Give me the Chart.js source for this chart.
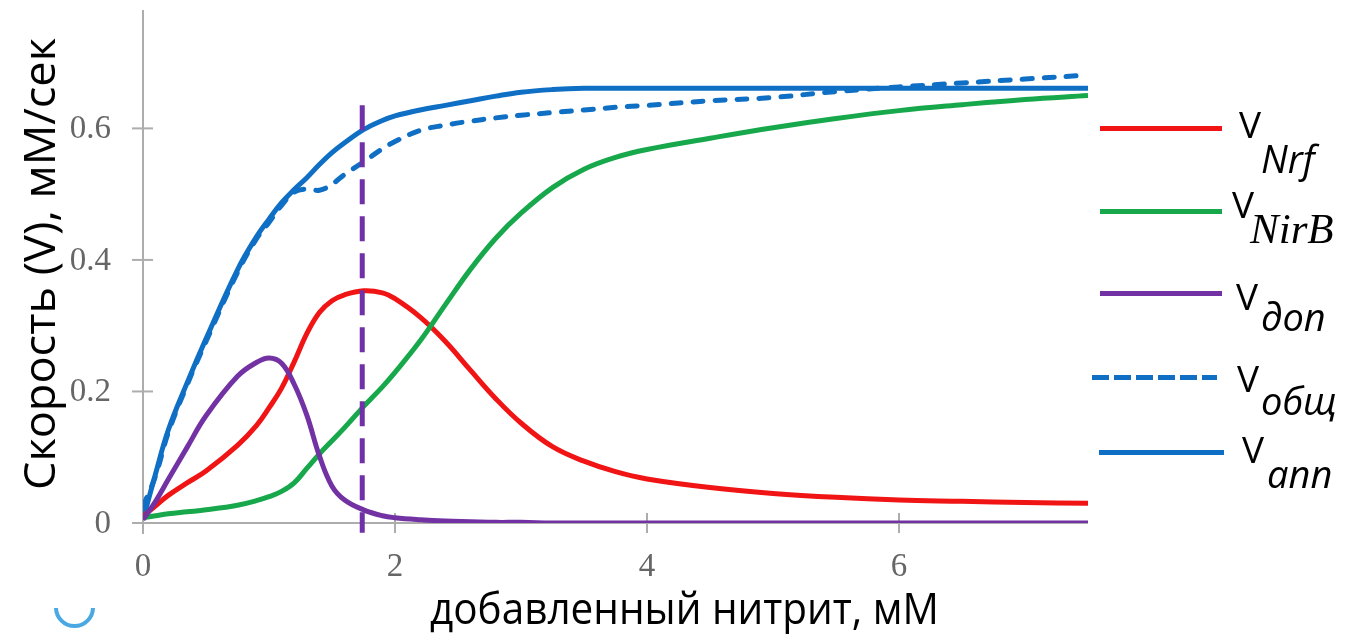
<!DOCTYPE html>
<html>
<head>
<meta charset="utf-8">
<script src="https://cdn.jsdelivr.net/npm/chart.js@4.4.1/dist/chart.umd.min.js"></script>
<style>
  html, body { margin: 0; padding: 0; background: #ffffff; }
  #wrap { position: relative; width: 1352px; height: 634px; overflow: hidden; background: #ffffff; }
  #chart { position: absolute; left: 0; top: 0; }
  .lbl { position: absolute; white-space: nowrap; line-height: 1; color: #000; }
  .mark { display: inline-block; width: 0; height: 0; vertical-align: baseline; }
  .swatch { position: absolute; height: 5px; }
  #ytitle { position: absolute; white-space: nowrap; line-height: 1; color: #000;
            font-family: "Open Sans", sans-serif; left: 38px; top: 264px; font-size: 44px; }
  #lens { position: absolute; left: 54px; top: 587px; width: 33px; height: 33px;
          border: 4px solid #4aa8e2; border-radius: 50%;
          clip-path: inset(52% 0 0 0); }
</style>
</head>
<body>
<div id="wrap">
  <canvas id="chart" width="1352" height="634"></canvas>
  <div id="ytitle">Скорость (V), мМ/сек</div>
  <div id="lens"></div>
  <div id="legend"></div>
</div>
<script>
// Added nitrite, mM
const xValues = [0, 0.1, 0.2, 0.35, 0.5, 0.75, 0.9, 1.0, 1.1, 1.2, 1.3, 1.4, 1.5, 1.6, 1.75, 1.9, 2.0,
                 2.2, 2.4, 2.6, 2.8, 3.0, 3.25, 3.5, 3.75, 4.0, 4.5, 5.0, 5.5, 6.0, 6.5, 7.0, 7.5];

// Rates, mM/s
const vNrf   = [0.010, 0.026, 0.042, 0.061, 0.079, 0.118, 0.148, 0.175, 0.205, 0.245, 0.288, 0.320, 0.338, 0.347, 0.353, 0.350, 0.341,
                0.313, 0.276, 0.232, 0.189, 0.152, 0.116, 0.094, 0.078, 0.067, 0.054, 0.045, 0.039, 0.035, 0.033, 0.031, 0.030];
const vNirB  = [0.008, 0.011, 0.014, 0.017, 0.020, 0.027, 0.034, 0.040, 0.048, 0.061, 0.083, 0.105, 0.125, 0.145, 0.177, 0.207, 0.229,
                0.277, 0.332, 0.386, 0.433, 0.471, 0.510, 0.538, 0.556, 0.568, 0.585, 0.601, 0.615, 0.627, 0.636, 0.644, 0.650];
const vDop   = [0.005, 0.033, 0.066, 0.115, 0.163, 0.223, 0.244, 0.251, 0.243, 0.211, 0.164, 0.102, 0.056, 0.035, 0.020, 0.011, 0.008,
                0.005, 0.003, 0.002, 0.001, 0.001, 0, 0, 0, 0, 0, 0, 0, 0, 0, 0, 0];
const vObsch = [0.025, 0.072, 0.137, 0.210, 0.276, 0.381, 0.432, 0.457, 0.483, 0.503, 0.508, 0.506, 0.515, 0.530, 0.549, 0.569, 0.580,
                0.597, 0.605, 0.611, 0.616, 0.620, 0.624, 0.628, 0.632, 0.635, 0.642, 0.647, 0.656, 0.663, 0.669, 0.675, 0.681];
const vApp   = [0.005, 0.075, 0.141, 0.213, 0.280, 0.385, 0.435, 0.462, 0.487, 0.507, 0.525, 0.545, 0.563, 0.578, 0.598, 0.612, 0.619,
                0.628, 0.635, 0.642, 0.649, 0.655, 0.659, 0.661, 0.661, 0.661, 0.661, 0.661, 0.661, 0.661, 0.661, 0.661, 0.661];

// Vertical marker at the nitrite level of interest
const markerX = 1.74;
const markerY = [0.635, -0.015];

// Axes
const xMin = 0, xMax = 7.5, yMin = 0, yMax = 0.78;
const xTicks = [0, 2, 4, 6];
const xTickLabels = ['0', '2', '4', '6'];
const yTicks = [0, 0.2, 0.4, 0.6];
const yTickLabels = ['0', '0.2', '0.4', '0.6'];
const xTitle = 'добавленный нитрит, мМ';

const colors = {
  nrf: '#f01414',
  nirb: '#17a84b',
  dop: '#7232a4',
  blue: '#0f6fc4',
  marker: '#7030a8',
  axis: '#adadad',
  tick: '#666666'
};

const pts = (ys) => xValues.map((x, i) => ({ x: x, y: ys[i] }));

// Axis lines with ticks crossing the line, serif tick labels
const crossAxes = {
  id: 'crossAxes',
  beforeDatasetsDraw(chart) {
    const { ctx, scales: { x, y } } = chart;
    const x0 = x.getPixelForValue(0);
    const y0 = y.getPixelForValue(0);
    ctx.save();
    ctx.strokeStyle = colors.axis;
    ctx.lineWidth = 2;
    const seg = (a, b, c, d) => { ctx.beginPath(); ctx.moveTo(a, b); ctx.lineTo(c, d); ctx.stroke(); };
    seg(x0, y.getPixelForValue(yMax), x0, y0 + 11);
    seg(x0 - 11, y0, x.getPixelForValue(xMax), y0);
    yTicks.forEach(v => { if (v !== 0) { const py = y.getPixelForValue(v); seg(x0 - 11, py, x0 + 10, py); } });
    xTicks.forEach(v => { if (v !== 0) { const px = x.getPixelForValue(v); seg(px, y0 - 10, px, y0 + 10); } });

    ctx.fillStyle = colors.tick;
    ctx.font = '33px "Liberation Serif", "DejaVu Serif", serif';
    ctx.textAlign = 'right';
    ctx.textBaseline = 'middle';
    yTicks.forEach((v, i) => ctx.fillText(yTickLabels[i], x0 - 32, y.getPixelForValue(v) + 1));
    ctx.textAlign = 'center';
    xTicks.forEach((v, i) => ctx.fillText(xTickLabels[i], x.getPixelForValue(v), y0 + 44));
    ctx.restore();
  }
};

const lineStyle = { pointRadius: 0, pointHoverRadius: 0, fill: false, tension: 0.4 };

new Chart(document.getElementById('chart'), {
  type: 'line',
  data: {
    datasets: [
      Object.assign({ label: 'marker', data: [{ x: markerX, y: markerY[0] }, { x: markerX, y: markerY[1] }],
        borderColor: colors.marker, borderWidth: 5, borderDash: [25, 12], clip: false }, lineStyle, { tension: 0 }),
      Object.assign({ label: 'V доп', data: pts(vDop), borderColor: colors.dop, borderWidth: 5 }, lineStyle),
      Object.assign({ label: 'V NirB', data: pts(vNirB), borderColor: colors.nirb, borderWidth: 5 }, lineStyle),
      Object.assign({ label: 'V Nrf', data: pts(vNrf), borderColor: colors.nrf, borderWidth: 5 }, lineStyle),
      Object.assign({ label: 'V общ', data: pts(vObsch), borderColor: colors.blue, borderWidth: 5,
        borderDash: [10, 12], borderCapStyle: 'round' }, lineStyle),
      Object.assign({ label: 'V апп', data: pts(vApp), borderColor: colors.blue, borderWidth: 5 }, lineStyle)
    ]
  },
  options: {
    responsive: false,
    animation: false,
    events: [],
    layout: { padding: { left: 143, right: 264, top: 10, bottom: 111 } },
    plugins: { legend: { display: false }, tooltip: { enabled: false } },
    scales: {
      x: { type: 'linear', min: xMin, max: xMax, display: false },
      y: { type: 'linear', min: yMin, max: yMax, display: false }
    }
  },
  plugins: [crossAxes]
});

// Rotated y-axis title, fitted to its length along the axis
(function () {
  const el = document.getElementById('ytitle');
  const k = 452 / el.offsetWidth;
  el.style.transform = 'translate(-50%, -50%) rotate(-90deg) scaleX(' + k + ')';
})();

const legend = document.getElementById('legend');

function placeText(text, font, left, baseline) {
  const d = document.createElement('div');
  d.className = 'lbl';
  d.style.font = font;
  d.style.lineHeight = '1';
  d.style.left = left + 'px';
  d.textContent = text;
  const m = document.createElement('span');
  m.className = 'mark';
  d.appendChild(m);
  legend.appendChild(d);
  d.style.top = (baseline - m.offsetTop) + 'px';
  return d;
}

// x-axis title, slightly condensed
const xt = placeText(xTitle, '44px "Open Sans", sans-serif', 430, 624);
xt.style.transformOrigin = '0 0';
xt.style.transform = 'scaleX(0.92)';

// Legend: line swatch, upright V and an italic subscript
const legendItems = [
  { color: colors.nrf,  dashed: false, lineY: 128, lineX: 1100, lineW: 122, vX: 1239, vBase: 138,
    sub: 'Nrf',  subX: 1261, subBase: 173, subFont: 'italic 38px "Open Sans", sans-serif' },
  { color: colors.nirb, dashed: false, lineY: 211, lineX: 1100, lineW: 122, vX: 1232, vBase: 218,
    sub: 'NirB', subX: 1250, subBase: 243, subFont: 'italic 43px "Liberation Serif", serif' },
  { color: colors.dop,  dashed: false, lineY: 293, lineX: 1100, lineW: 122, vX: 1236, vBase: 310,
    sub: 'доп',  subX: 1261, subBase: 331, subFont: 'italic 38px "Open Sans", sans-serif' },
  { color: colors.blue, dashed: true,  lineY: 377, lineX: 1092, lineW: 125, vX: 1237, vBase: 392,
    sub: 'общ',  subX: 1261, subBase: 415, subFont: 'italic 38px "Open Sans", sans-serif' },
  { color: colors.blue, dashed: false, lineY: 452, lineX: 1099, lineW: 125, vX: 1242, vBase: 463,
    sub: 'апп',  subX: 1267, subBase: 488, subFont: 'italic 38px "Open Sans", sans-serif' }
];

legendItems.forEach(it => {
  const s = document.createElement('div');
  s.className = 'swatch';
  s.style.left = it.lineX + 'px';
  s.style.top = (it.lineY - 2.5) + 'px';
  s.style.width = it.lineW + 'px';
  if (it.dashed) {
    s.style.background = 'repeating-linear-gradient(to right, ' + it.color + ' 0 17px, transparent 17px 22px)';
  } else {
    s.style.background = it.color;
  }
  legend.appendChild(s);
  placeText('V', '37px "Open Sans", sans-serif', it.vX, it.vBase);
  placeText(it.sub, it.subFont, it.subX, it.subBase);
});
</script>
</body>
</html>
